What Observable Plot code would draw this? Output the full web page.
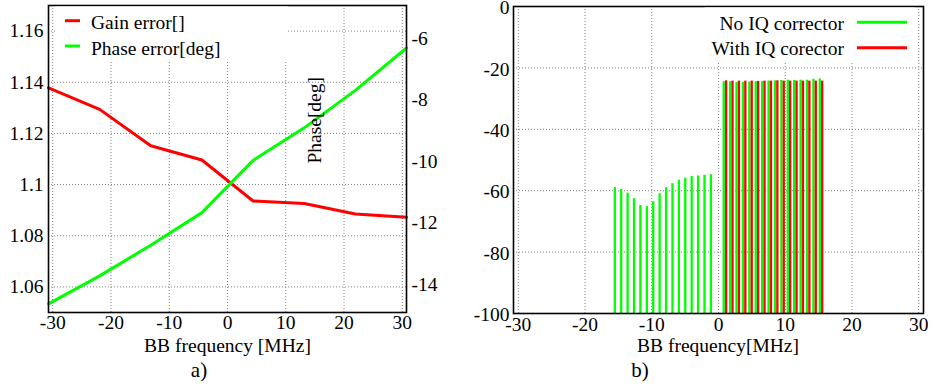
<!DOCTYPE html>
<html>
<head>
<meta charset="utf-8">
<script src="https://cdn.jsdelivr.net/npm/d3@7"></script>
<script src="https://cdn.jsdelivr.net/npm/@observablehq/plot@0.6"></script>
<style>
  html, body { margin: 0; padding: 0; background: white; }
  #chart { position: relative; width: 937px; height: 386px; overflow: hidden; font-family: 'Liberation Serif', 'Times New Roman', serif; }
  #chart > .panel { position: absolute; top: 0; }
  #overlay { position: absolute; left: 0; top: 0; pointer-events: none; }
</style>
</head>
<body>
<div id="chart">
  <div class="panel" id="left" style="left:0px"></div>
  <div class="panel" id="right" style="left:470px"></div>
  <svg id="overlay" width="937" height="386" font-family="'Liberation Serif', 'Times New Roman', serif" font-size="19.5">
    <!-- legend a) -->
    <rect x="55" y="6.5" width="233" height="55" fill="white"/>
    <line x1="65" x2="80" y1="20.7" y2="20.7" stroke="#ff0000" stroke-width="3"/>
    <text x="91" y="29.3">Gain error[]</text>
    <line x1="65" x2="80" y1="46" y2="46" stroke="#00ff00" stroke-width="3"/>
    <text x="91" y="54.5">Phase error[deg]</text>
    <text transform="translate(321,120.3) rotate(-90)" text-anchor="middle">Phase[deg]</text>
    <text x="227.5" y="351.5" text-anchor="middle">BB frequency [MHz]</text>
    <text x="199" y="377" text-anchor="middle" font-size="21">a)</text>
    <!-- legend b) -->
    <rect x="705" y="7.5" width="210" height="54" fill="white"/>
    <text x="844" y="30" text-anchor="end">No IQ corrector</text>
    <line x1="857" x2="907" y1="22.3" y2="22.3" stroke="#00ff00" stroke-width="3"/>
    <text x="844" y="55" text-anchor="end">With IQ corector</text>
    <line x1="857" x2="907" y1="47.7" y2="47.7" stroke="#ff0000" stroke-width="3"/>
    <text x="718" y="352" text-anchor="middle">BB frequency[MHz]</text>
    <text x="640" y="377" text-anchor="middle" font-size="21">b)</text>
  </svg>
</div>
<script>
// ---------- Panel a) data ----------
const freqA = [-30.72, -21.94, -13.17, -4.39, 4.39, 13.17, 21.94, 30.72];
const gainErr = [1.1378, 1.1294, 1.1152, 1.1096, 1.0936, 1.0926, 1.0885, 1.0872];
const phaseErr = [-14.63, -13.72, -12.72, -11.66, -9.96, -8.90, -7.68, -6.30];
const xTicks = [-30, -20, -10, 0, 10, 20, 30];
const gainTicks = [1.06, 1.08, 1.1, 1.12, 1.14, 1.16];
const phaseTicks = [-14, -12, -10, -8, -6];

// ---------- Panel b) data ----------
const tonesNeg = [-15.36, -14.40, -13.44, -12.48, -11.52, -10.56, -9.60, -8.64, -7.68, -6.72, -5.76, -4.80, -3.84, -2.88, -1.92, -0.96];
const noCorrNeg = [-59.0, -59.6, -60.8, -62.6, -64.8, -65.2, -63.6, -61.0, -59.0, -57.7, -56.6, -55.9, -55.4, -55.2, -55.0, -54.8];
const tonesPos = [0.96, 1.92, 2.88, 3.84, 4.80, 5.76, 6.72, 7.68, 8.64, 9.60, 10.56, 11.52, 12.48, 13.44, 14.40, 15.36];
const noCorrPos = [-24.5, -24.5, -24.7, -24.7, -24.6, -24.5, -24.4, -24.3, -24.2, -24.1, -24.0, -24.1, -24.0, -24.0, -23.7, -23.6];
const withCorrPos = [-24.2, -24.3, -24.3, -24.3, -24.3, -24.4, -24.3, -24.3, -24.2, -24.3, -24.3, -24.3, -24.3, -24.3, -24.3, -24.3];
const dbTicks = [-100, -80, -60, -40, -20, 0];
const dbFloor = -100;

const RED = "#ff0000", GREEN = "#00ff00";
const fmt = d => String(d).replace("\u2212", "-");
const gridStyle = {stroke: "#808080", strokeOpacity: 1, strokeWidth: 1, strokeDasharray: "1,2"};
const baseStyle = {fontFamily: "'Liberation Serif', 'Times New Roman', serif", fontSize: "19.5px", color: "black", background: "white", overflow: "hidden"};

// dual axis mapping (phase -> position on gain scale)
const gainDom = [1.05, 1.17];
const phaseDom = [-14.912, -4.916];
const toGain = p => gainDom[0] + (p - phaseDom[0]) / (phaseDom[1] - phaseDom[0]) * (gainDom[1] - gainDom[0]);
const fromGain = g => phaseDom[0] + (g - gainDom[0]) / (gainDom[1] - gainDom[0]) * (phaseDom[1] - phaseDom[0]);

const left = Plot.plot({
  width: 470, height: 386,
  marginLeft: 48, marginRight: 64, marginTop: 5, marginBottom: 74,
  style: baseStyle,
  x: {domain: [-30.72, 30.72], label: null},
  y: {domain: gainDom, label: null},
  marks: [
    Plot.ruleX(xTicks, {x: d => d, ...gridStyle}),
    Plot.ruleY(gainTicks, {y: d => d, ...gridStyle}),
    Plot.line(freqA, {x: freqA, y: gainErr, stroke: RED, strokeWidth: 3, strokeLinejoin: "round"}),
    Plot.line(freqA, {x: freqA, y: phaseErr.map(toGain), stroke: GREEN, strokeWidth: 3, strokeLinejoin: "round"}),
    Plot.frame({stroke: "black", strokeWidth: 1.6}),
    Plot.axisX(xTicks, {anchor: "bottom", tickSize: 0, tickPadding: 3, tickFormat: fmt, label: null}),
    Plot.axisY(gainTicks, {anchor: "left", tickSize: 0, tickPadding: 5, tickFormat: fmt, label: null}),
    Plot.axisY(phaseTicks.map(toGain), {anchor: "right", tickSize: 0, tickPadding: 5, tickFormat: g => fmt(Math.round(fromGain(g))), label: null})
  ]
});
document.getElementById("left").appendChild(left);

const right = Plot.plot({
  width: 458, height: 386,
  marginLeft: 43, marginRight: 5, marginTop: 6, marginBottom: 73,
  style: baseStyle,
  x: {domain: [-30.72, 30.72], label: null},
  y: {domain: [dbFloor, 0], label: null},
  marks: [
    Plot.ruleX(xTicks, {x: d => d, ...gridStyle}),
    Plot.ruleY(dbTicks, {y: d => d, ...gridStyle}),
    Plot.ruleX(tonesNeg, {x: tonesNeg, y1: dbFloor, y2: noCorrNeg, stroke: GREEN, strokeWidth: 2.3, dx: -1.2}),
    Plot.ruleX(tonesPos, {x: tonesPos, y1: dbFloor, y2: noCorrPos, stroke: GREEN, strokeWidth: 2.3, dx: -1.2}),
    Plot.ruleX(tonesPos, {x: tonesPos, y1: dbFloor, y2: withCorrPos, stroke: RED, strokeWidth: 2.3, dx: 1.2}),
    Plot.frame({stroke: "black", strokeWidth: 1.6}),
    Plot.axisX(xTicks, {anchor: "bottom", tickSize: 0, tickPadding: 3.5, tickFormat: fmt, label: null}),
    Plot.axisY(dbTicks, {anchor: "left", tickSize: 0, tickPadding: 4, dy: 1.5, tickFormat: fmt, label: null})
  ]
});
document.getElementById("right").appendChild(right);
</script>
</body>
</html>
